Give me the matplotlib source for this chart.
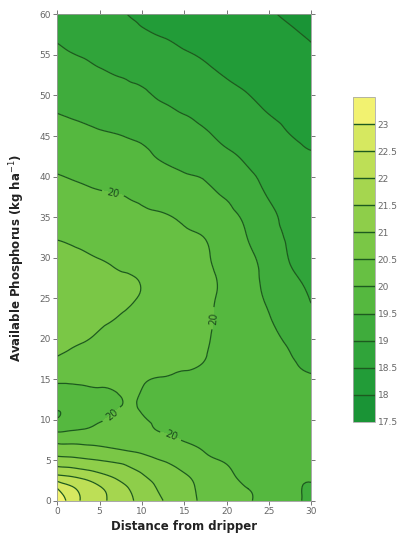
import numpy as np
import matplotlib
matplotlib.use("Agg")
import matplotlib.pyplot as plt
import matplotlib.tri as mtri
from matplotlib.colors import ListedColormap, BoundaryNorm

# Distance from dripper (x) and available phosphorus (y) grid nodes
distance = [0, 1.5, 3, 5, 7.5, 8.5, 10, 12.5, 15, 17.5, 20, 22.5, 25, 27.5, 30]
phosphorus = [0, 1.5, 3, 4.5, 6, 7.5, 9, 10.5, 12, 13.5, 15, 16.5, 18, 20, 22.5,
              25, 27.5, 30, 32.5, 35, 37.5, 40, 42.5, 45, 47.5, 50, 52.5, 55, 57.5, 60]

# Response values (one row per phosphorus value)
response = [
    [23.40, 22.85, 22.44, 22.15, 21.75, 21.59, 21.36, 21.00, 20.69, 20.38, 20.23, 20.04, 19.83, 19.64, 19.44],
    [23.00, 22.62, 22.36, 22.07, 21.64, 21.49, 21.26, 20.91, 20.64, 20.36, 20.21, 20.00, 19.82, 19.63, 19.46],
    [22.10, 22.00, 21.87, 21.64, 21.36, 21.24, 21.05, 20.80, 20.55, 20.30, 20.10, 19.88, 19.72, 19.62, 19.56],
    [21.38, 21.33, 21.25, 21.15, 21.02, 20.93, 20.80, 20.57, 20.35, 20.16, 20.00, 19.85, 19.76, 19.72, 19.70],
    [20.82, 20.80, 20.76, 20.69, 20.58, 20.53, 20.45, 20.30, 20.15, 19.99, 19.88, 19.81, 19.77, 19.76, 19.75],
    [20.35, 20.35, 20.34, 20.32, 20.26, 20.23, 20.17, 20.08, 19.98, 19.90, 19.84, 19.80, 19.77, 19.76, 19.76],
    [19.82, 19.88, 19.96, 20.06, 20.13, 20.12, 20.07, 19.97, 19.90, 19.84, 19.80, 19.77, 19.75, 19.74, 19.74],
    [19.47, 19.58, 19.74, 19.93, 20.06, 20.06, 20.01, 19.93, 19.86, 19.81, 19.77, 19.74, 19.72, 19.71, 19.70],
    [19.65, 19.68, 19.74, 19.85, 19.99, 20.03, 19.96, 19.86, 19.80, 19.77, 19.74, 19.71, 19.69, 19.67, 19.65],
    [19.88, 19.89, 19.91, 19.95, 20.03, 20.04, 19.99, 19.90, 19.84, 19.80, 19.76, 19.71, 19.66, 19.62, 19.59],
    [20.07, 20.07, 20.08, 20.09, 20.08, 20.07, 20.04, 19.98, 19.92, 19.86, 19.80, 19.72, 19.64, 19.57, 19.52],
    [20.30, 20.27, 20.23, 20.19, 20.15, 20.14, 20.12, 20.08, 20.03, 19.96, 19.88, 19.77, 19.66, 19.55, 19.47],
    [20.52, 20.44, 20.38, 20.31, 20.24, 20.21, 20.18, 20.12, 20.06, 20.01, 19.88, 19.76, 19.63, 19.51, 19.37],
    [20.65, 20.59, 20.53, 20.45, 20.36, 20.32, 20.28, 20.21, 20.14, 20.04, 19.88, 19.72, 19.58, 19.44, 19.26],
    [20.78, 20.72, 20.65, 20.57, 20.47, 20.43, 20.38, 20.29, 20.19, 20.06, 19.89, 19.68, 19.52, 19.32, 19.12],
    [20.85, 20.82, 20.77, 20.70, 20.60, 20.55, 20.47, 20.34, 20.21, 20.07, 19.92, 19.67, 19.44, 19.22, 18.97],
    [20.78, 20.75, 20.70, 20.64, 20.55, 20.53, 20.46, 20.33, 20.22, 20.08, 19.92, 19.65, 19.37, 19.08, 18.91],
    [20.62, 20.59, 20.55, 20.49, 20.40, 20.36, 20.31, 20.23, 20.14, 20.04, 19.86, 19.61, 19.30, 18.98, 18.85],
    [20.48, 20.45, 20.41, 20.36, 20.29, 20.26, 20.22, 20.15, 20.07, 19.99, 19.77, 19.49, 19.16, 18.95, 18.77],
    [20.33, 20.30, 20.27, 20.22, 20.15, 20.12, 20.08, 20.04, 19.92, 19.79, 19.62, 19.40, 19.10, 18.90, 18.70],
    [20.18, 20.15, 20.11, 20.06, 20.02, 19.98, 19.93, 19.83, 19.73, 19.60, 19.47, 19.22, 18.98, 18.82, 18.64],
    [20.02, 19.98, 19.94, 19.88, 19.80, 19.76, 19.70, 19.62, 19.54, 19.46, 19.24, 19.06, 18.90, 18.73, 18.55],
    [19.86, 19.83, 19.79, 19.74, 19.67, 19.63, 19.57, 19.46, 19.34, 19.21, 19.06, 18.94, 18.80, 18.65, 18.53],
    [19.69, 19.66, 19.62, 19.57, 19.51, 19.47, 19.42, 19.31, 19.17, 19.05, 18.92, 18.80, 18.67, 18.51, 18.40],
    [19.52, 19.48, 19.44, 19.37, 19.27, 19.23, 19.17, 19.08, 19.01, 18.90, 18.78, 18.64, 18.51, 18.41, 18.31],
    [19.36, 19.33, 19.29, 19.24, 19.16, 19.12, 19.07, 18.96, 18.85, 18.74, 18.62, 18.51, 18.41, 18.32, 18.23],
    [19.22, 19.17, 19.13, 19.06, 18.98, 18.94, 18.88, 18.79, 18.69, 18.58, 18.48, 18.41, 18.32, 18.23, 18.14],
    [19.07, 19.02, 18.98, 18.91, 18.82, 18.78, 18.73, 18.63, 18.54, 18.46, 18.37, 18.29, 18.21, 18.13, 18.05],
    [18.95, 18.89, 18.83, 18.75, 18.65, 18.61, 18.55, 18.48, 18.40, 18.33, 18.26, 18.18, 18.11, 18.04, 17.97],
    [18.80, 18.75, 18.70, 18.63, 18.54, 18.49, 18.46, 18.39, 18.32, 18.25, 18.17, 18.10, 18.03, 17.96, 17.88],
]

levels = [17.5, 18, 18.5, 19, 19.5, 20, 20.5, 21, 21.5, 22, 22.5, 23, 23.5]
labelled_level = 20
tick_values = [17.5, 18, 18.5, 19, 19.5, 20, 20.5, 21, 21.5, 22, 22.5, 23]
band_colors = ['#1a9436', '#229c38', '#30a43a', '#3fac3c', '#55b83f', '#67c043',
               '#7ac746', '#8ece4a', '#a5d64f', '#bddf56', '#d6e860', '#f2f270']
label_spots = [(6.6, 38.1), (6.0, 11.2), (13.3, 7.7), (18.6, 22.5)]

cmap = ListedColormap(band_colors)
norm = BoundaryNorm(levels, cmap.N)
line_color = '#1d5a1f'

fig = plt.figure(figsize=(4.01, 5.36), dpi=100)
ax = fig.add_axes([0.143, 0.066, 0.633, 0.907])

X, Y = np.meshgrid(distance, phosphorus)
Z = np.array(response)

# Let matplotlib's own triangulation refiner smooth the read grid
triang = mtri.Triangulation(X.ravel(), Y.ravel())
refiner = mtri.UniformTriRefiner(triang)
tri_f, z_f = refiner.refine_field(Z.ravel(), subdiv=3)

cf = ax.tricontourf(tri_f, z_f, levels=levels, cmap=cmap, norm=norm)
other_levels = [lv for lv in levels if lv != labelled_level]
cs = ax.tricontour(tri_f, z_f, levels=other_levels, colors=line_color, linewidths=0.9)
cs20 = ax.tricontour(tri_f, z_f, levels=[labelled_level], colors=line_color, linewidths=0.9)
ax.clabel(cs20, manual=label_spots, inline=True, fontsize=7,
          fmt='%g', colors='#1d4a1d')

ax.set_xlim(0, 30)
ax.set_ylim(0, 60)
ax.set_xticks(range(0, 31, 5))
ax.set_yticks(range(0, 61, 5))
ax.tick_params(direction='out', length=3, width=0.7, colors='#777777',
               labelsize=6.5, labelcolor='#666666', top=True, right=True,
               labeltop=False, labelright=False, pad=1.5)
for sp in ax.spines.values():
    sp.set_color('#999999')
    sp.set_linewidth(0.6)

ax.set_xlabel('Distance from dripper', fontsize=8.5, fontweight='bold',
              color='#222222', labelpad=3)
ax.set_ylabel('Available Phosphorus (kg ha$^{-1}$)', fontsize=8.5,
              fontweight='bold', color='#222222', labelpad=9)

cax = fig.add_axes([0.880, 0.213, 0.055, 0.606])
cb = fig.colorbar(cf, cax=cax)
cb.ax.minorticks_off()
cb.ax.set_yticks(tick_values)
cb.ax.set_yticklabels([f'{v:g}' for v in tick_values])
for lv in levels[1:-1]:
    cb.ax.axhline(lv, color=line_color, linewidth=1.0)
cb.ax.tick_params(which='both', length=0, labelsize=6.5, labelcolor='#666666', pad=2)
cb.outline.set_edgecolor('#aaaaaa')
cb.outline.set_linewidth(0.6)

fig.savefig('out.png', dpi=100)
